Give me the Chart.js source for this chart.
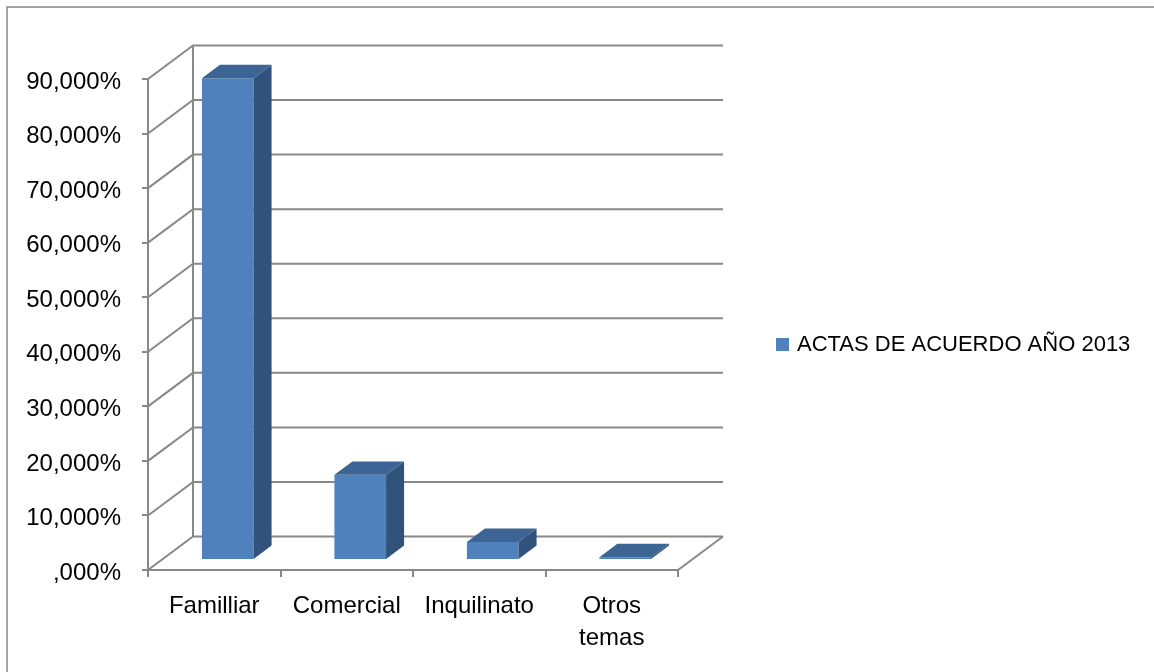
<!DOCTYPE html>
<html>
<head>
<meta charset="utf-8">
<title>Actas de acuerdo 2013</title>
<script src="https://cdn.jsdelivr.net/npm/chart.js@4.4.1/dist/chart.umd.min.js"></script>
<style>
    html, body { margin: 0; padding: 0; background: #fff; }
    canvas { display: block; }
</style>
</head>
<body>
<canvas id="actasChart" width="1154" height="672"></canvas>
<script>
// Data
const categories = ['Familliar', 'Comercial', 'Inquilinato', ['Otros', 'temas']];
const seriesLabel = 'ACTAS DE ACUERDO AÑO 2013';
const seriesValues = [88.3, 15.6, 3.3, 0.5];
const tickLabels = [',000%', '10,000%', '20,000%', '30,000%', '40,000%', '50,000%', '60,000%', '70,000%', '80,000%', '90,000%'];

// 3D look
const DEPTH_X = 45;
const DEPTH_Y = -33.5;
const BAR_FRONT = 0.3;
const BAR_BACK = 0.7;
const LINE_COLOR = '#888888';
const FRONT_COLOR = '#4f81bd';
const TOP_COLOR = '#3c6494';
const SIDE_COLOR = '#30527b';

function line(ctx, pts) {
    ctx.beginPath();
    ctx.moveTo(pts[0][0], pts[0][1]);
    for (let i = 1; i < pts.length; i++) ctx.lineTo(pts[i][0], pts[i][1]);
    ctx.stroke();
}

function poly(ctx, pts, color) {
    ctx.beginPath();
    ctx.moveTo(pts[0][0], pts[0][1]);
    for (let i = 1; i < pts.length; i++) ctx.lineTo(pts[i][0], pts[i][1]);
    ctx.closePath();
    ctx.fillStyle = color;
    ctx.fill();
}

const box3d = {
    id: 'box3d',
    beforeDraw(chart) {
        // frame around the chart
        const ctx = chart.ctx;
        ctx.save();
        ctx.strokeStyle = LINE_COLOR;
        ctx.lineWidth = 1.5;
        line(ctx, [[7, chart.height], [7, 7], [chart.width, 7]]);
        ctx.restore();
    },
    beforeDatasetsDraw(chart) {
        const ctx = chart.ctx;
        const area = chart.chartArea;
        const y = chart.scales.y;

        ctx.save();
        ctx.strokeStyle = LINE_COLOR;
        ctx.lineWidth = 2;

        // side wall and back wall gridlines
        y.ticks.forEach(function (t) {
            const py = y.getPixelForValue(t.value);
            line(ctx, [[area.left, py], [area.left + DEPTH_X, py + DEPTH_Y], [area.right + DEPTH_X, py + DEPTH_Y]]);
        });
        line(ctx, [[area.left + DEPTH_X, area.top + DEPTH_Y], [area.left + DEPTH_X, area.bottom + DEPTH_Y]]);
        line(ctx, [[area.right, area.bottom], [area.right + DEPTH_X, area.bottom + DEPTH_Y]]);

        // bars as boxes
        const meta = chart.getDatasetMeta(0);
        const fx = DEPTH_X * BAR_FRONT, fy = DEPTH_Y * BAR_FRONT;
        const dx = DEPTH_X * (BAR_BACK - BAR_FRONT), dy = DEPTH_Y * (BAR_BACK - BAR_FRONT);
        meta.data.forEach(function (bar) {
            const p = bar.getProps(['x', 'y', 'base', 'width'], true);
            const x0 = p.x - p.width / 2 + fx;
            const x1 = p.x + p.width / 2 + fx;
            const yt = p.y + fy;
            const yb = p.base + fy;
            poly(ctx, [[x0, yt], [x1, yt], [x1, yb], [x0, yb]], FRONT_COLOR);
            poly(ctx, [[x1, yt], [x1 + dx, yt + dy], [x1 + dx, yb + dy], [x1, yb]], SIDE_COLOR);
            poly(ctx, [[x0, yt], [x1, yt], [x1 + dx, yt + dy], [x0 + dx, yt + dy]], TOP_COLOR);
        });
        ctx.restore();
        return false;
    },
    afterDraw(chart) {
        // legend
        const ctx = chart.ctx;
        ctx.save();
        ctx.fillStyle = FRONT_COLOR;
        ctx.fillRect(776, 338, 13, 13);
        ctx.fillStyle = '#000';
        ctx.font = '22px "Liberation Sans", Arial, sans-serif';
        ctx.textBaseline = 'middle';
        ctx.fillText(chart.data.datasets[0].label, 797, 345);
        ctx.restore();
    }
};

Chart.defaults.font.family = '"Liberation Sans", Arial, sans-serif';
Chart.defaults.font.size = 24;
Chart.defaults.color = '#000';

new Chart(document.getElementById('actasChart').getContext('2d'), {
    type: 'bar',
    data: {
        labels: categories,
        datasets: [{
            label: seriesLabel,
            data: seriesValues,
            backgroundColor: FRONT_COLOR,
            barPercentage: 0.39,
            categoryPercentage: 1
        }]
    },
    options: {
        responsive: false,
        animation: false,
        layout: { padding: { left: 0, right: 476, top: 79, bottom: 0 } },
        plugins: {
            legend: { display: false },
            tooltip: { enabled: false }
        },
        scales: {
            x: {
                offset: true,
                grid: { offset: true, drawOnChartArea: false, drawTicks: true, tickLength: 7, color: LINE_COLOR, lineWidth: 2 },
                border: { display: true, color: LINE_COLOR, width: 2 },
                ticks: { padding: 14, maxRotation: 0, autoSkip: false, font: { size: 24, lineHeight: 1.32 } },
                afterFit: function (scale) { scale.height = 102; }
            },
            y: {
                min: 0,
                max: 90,
                ticks: {
                    stepSize: 10,
                    padding: 21,
                    labelOffset: 3,
                    callback: function (value, index) { return tickLabels[index]; }
                },
                grid: { drawOnChartArea: false, drawTicks: true, tickLength: 6, color: LINE_COLOR, lineWidth: 2 },
                border: { display: true, color: LINE_COLOR, width: 2 },
                afterFit: function (scale) { scale.width = 148; }
            }
        }
    },
    plugins: [box3d]
});
</script>
</body>
</html>
